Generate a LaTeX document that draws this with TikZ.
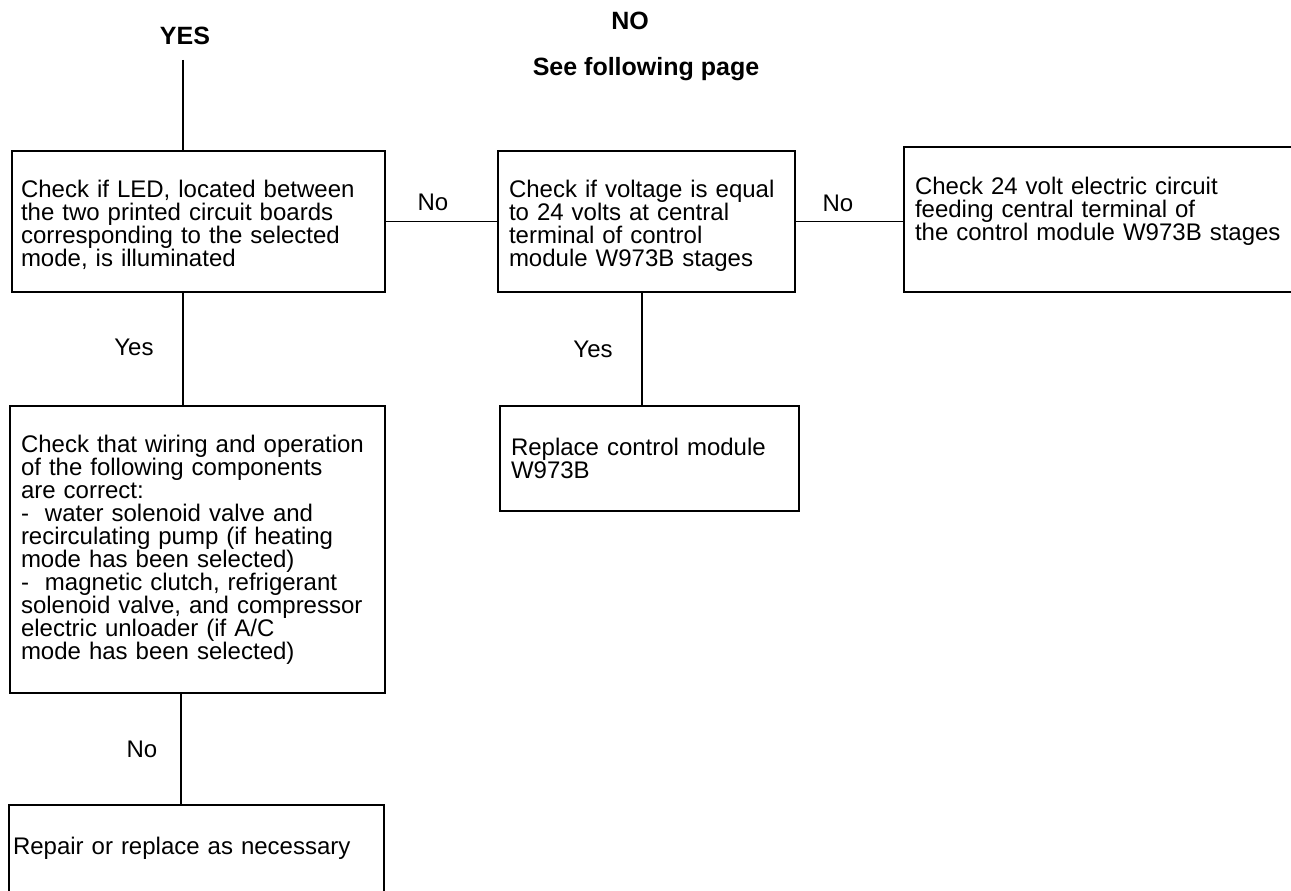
\documentclass[tikz,border=0pt]{standalone}
\usepackage{fontspec}
\setmainfont{Liberation Sans}
\usetikzlibrary{calc}
\begin{document}
\begin{tikzpicture}[x=1pt,y=-1pt,line width=1.8pt,
  every node/.style={font=\fontsize{24}{23}\selectfont},
  box/.style={draw,rectangle,align=left,inner ysep=0pt},
  openbox/.style={rectangle,align=left,inner ysep=0pt},
  lbl/.style={anchor=base,inner sep=0pt},
  head/.style={anchor=base,inner sep=0pt,font=\fontsize{25}{28}\selectfont\bfseries}]
\useasboundingbox (0,0) rectangle (1291,891);

% headings
\node[head] (hyes) at (185,45) {YES};
\node[head] (hno) at (630,30) {NO};
\node[head] (hsee) at (646,76) {See following page};

% boxes
\node[box,text width=355pt,inner xsep=9pt,minimum height=141pt] (A) at (198.5,221.5)
  {\rule{0pt}{25pt}Check if LED, located between\\the two printed circuit boards\\corresponding to the selected\\mode, is illuminated};
\node[box,text width=275pt,inner xsep=11pt,minimum height=141pt] (B) at (646.5,221.5)
  {\rule{0pt}{25pt}Check if voltage is equal\\to 24 volts at central\\terminal of control\\module W973B stages};
\node[openbox,text width=366pt,inner xsep=10pt,minimum width=386pt,minimum height=143pt] (C) at (1098,219.5)
  {Check 24 volt electric circuit\\feeding central terminal of\\the control module W973B stages\rule[-20.5pt]{0pt}{20.5pt}};
\node[box,text width=353pt,inner xsep=11pt,minimum height=287pt] (D) at (197.5,549.5)
  {Check that wiring and operation\\of the following components\\are correct:\\-\ \ water solenoid valve and\\recirculating pump (if heating\\mode has been selected)\\-\ \ magnetic clutch, refrigerant\\solenoid valve, and compressor\\electric unloader (if A/C\\mode has been selected)};
\node[box,text width=277pt,inner xsep=11pt,minimum height=105pt] (E) at (649.5,458.5)
  {Replace control module\\W973B};
\node[openbox,text width=367pt,inner xsep=3pt,minimum height=85.5pt] (F) at (196.5,848.75)
  {Repair or replace as necessary};

% open outlines
\draw (C.north east) -- (C.north west) -- (C.south west) -- (C.south east);
\draw (F.south west) -- (F.north west) -- (F.north east) -- (F.south east);

% connectors
\coordinate (yt) at (183,60);
\coordinate (bx) at (642,300);
\coordinate (dx) at (181,750);
\draw (yt) -- (yt |- A.north);
\draw (A.east) -- (B.west);
\draw (B.east) -- (B.east -| C.west);
\draw (A.south -| yt) -- (D.north -| yt);
\draw (B.south -| bx) -- (E.north -| bx);
\draw (D.south -| dx) -- (F.north -| dx);

% labels
\node[lbl] (l1) at (433,210) {No};
\node[lbl] (l2) at (838,211) {No};
\node[lbl] (l3) at (134,355) {Yes};
\node[lbl] (l4) at (593,357) {Yes};
\node[lbl] (l5) at (142,757) {No};
\end{tikzpicture}
\end{document}
